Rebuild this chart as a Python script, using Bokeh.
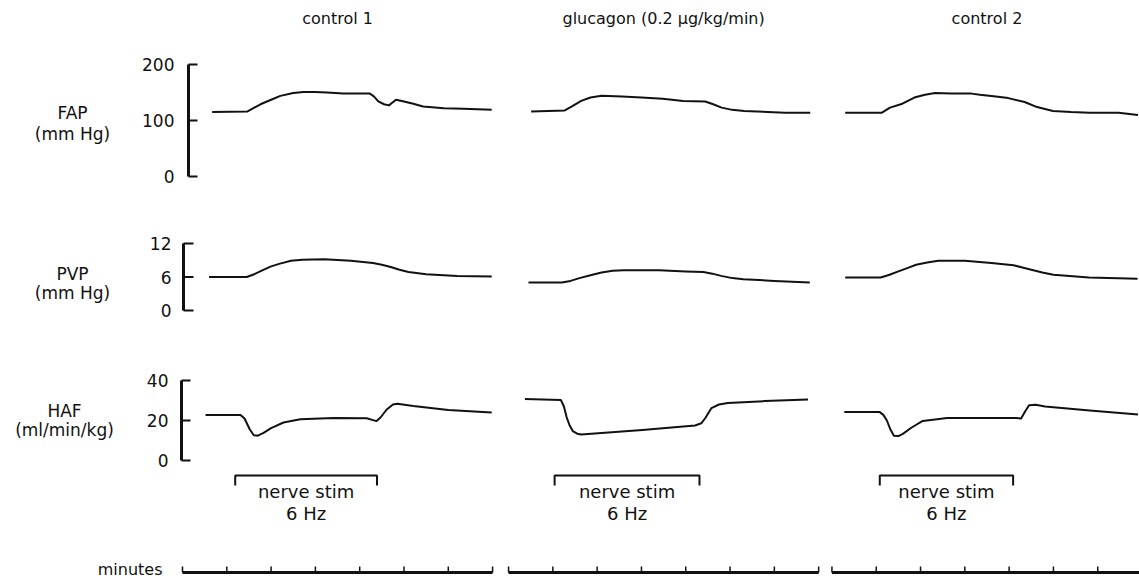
from bokeh.plotting import figure
from bokeh.models import Range1d
from bokeh.embed import file_html
from bokeh.resources import INLINE
from bokeh.core.properties import value

# ---------------- data ----------------
panel_titles = ["control 1", "glucagon (0.2 \u03bcg/kg/min)", "control 2"]
panel_minutes = 7                      # length of each time bar (minutes)
minute_ticks = [0, 1, 2, 3, 4, 5, 6, 7]

# FAP (mm Hg)
fap_t1 = [0.67, 1.46, 1.60, 1.76, 2.00, 2.21, 2.50, 2.73, 3.00, 3.26, 3.63, 4.23, 4.32, 4.42, 4.55, 4.66, 4.74, 4.82, 5.00, 5.21, 5.43, 5.90, 6.34, 6.98]
fap_v1 = [115, 116, 122, 129, 137, 144, 149, 151, 151, 150, 148, 148, 143, 134, 129, 127, 132, 137, 134, 130, 125, 122, 121, 119]
fap_t2 = [0.51, 1.27, 1.45, 1.64, 1.85, 2.10, 2.56, 3.00, 3.48, 3.94, 4.44, 4.62, 4.81, 5.05, 5.32, 6.24, 6.81]
fap_v2 = [116, 118, 126, 135, 141, 144, 143, 141, 139, 135, 134, 129, 123, 119, 117, 114, 114]
fap_t3 = [0.30, 1.13, 1.31, 1.59, 1.86, 2.10, 2.33, 2.70, 3.15, 3.34, 3.70, 3.98, 4.35, 4.63, 4.99, 5.40, 5.82, 6.47, 6.91]
fap_v3 = [114, 114, 123, 130, 141, 146, 149, 148, 148, 146, 143, 140, 133, 124, 117, 115, 114, 114, 110]

# PVP (mm Hg)
pvp_t1 = [0.60, 1.45, 1.62, 1.80, 2.00, 2.20, 2.45, 2.70, 3.20, 3.80, 4.30, 4.50, 4.70, 4.90, 5.10, 5.50, 6.20, 6.98]
pvp_v1 = [6.0, 6.0, 6.5, 7.2, 7.9, 8.4, 8.9, 9.1, 9.2, 8.9, 8.5, 8.2, 7.8, 7.3, 6.9, 6.5, 6.2, 6.1]
pvp_t2 = [0.45, 1.20, 1.40, 1.60, 1.85, 2.10, 2.35, 2.60, 3.40, 4.00, 4.40, 4.60, 4.80, 5.05, 5.30, 6.00, 6.80]
pvp_v2 = [5.0, 5.0, 5.3, 5.8, 6.3, 6.8, 7.1, 7.2, 7.2, 7.0, 6.9, 6.6, 6.2, 5.8, 5.6, 5.3, 5.0]
pvp_t3 = [0.30, 1.10, 1.30, 1.50, 1.70, 1.90, 2.15, 2.40, 3.00, 3.60, 4.10, 4.30, 4.50, 4.75, 5.00, 5.80, 6.90]
pvp_v3 = [5.9, 5.9, 6.4, 7.0, 7.6, 8.2, 8.6, 8.9, 8.9, 8.5, 8.1, 7.7, 7.3, 6.8, 6.4, 5.9, 5.7]

# HAF (ml/min/kg)
haf_t1 = [0.52, 1.31, 1.40, 1.52, 1.61, 1.70, 1.83, 2.00, 2.28, 2.66, 3.41, 4.16, 4.30, 4.38, 4.47, 4.61, 4.75, 4.85, 5.21, 6.00, 6.98]
haf_v1 = [22.8, 22.8, 21.0, 15.5, 12.6, 12.4, 13.8, 16.2, 19.0, 20.6, 21.3, 21.1, 20.2, 19.7, 21.5, 25.5, 28.0, 28.4, 27.2, 25.3, 24.0]
haf_t2 = [0.37, 1.18, 1.25, 1.31, 1.38, 1.45, 1.55, 1.64, 2.10, 3.02, 4.21, 4.35, 4.45, 4.58, 4.75, 4.95, 5.78, 6.76]
haf_v2 = [30.8, 30.3, 27.0, 21.7, 17.5, 14.7, 13.4, 13.0, 13.7, 15.3, 17.5, 18.6, 21.5, 26.2, 28.0, 28.7, 29.7, 30.5]
haf_t3 = [0.28, 1.08, 1.16, 1.24, 1.32, 1.40, 1.50, 1.60, 1.80, 2.05, 2.60, 4.16, 4.27, 4.36, 4.45, 4.60, 4.81, 5.82, 6.91]
haf_v3 = [24.2, 24.2, 22.8, 20.0, 15.5, 12.4, 12.2, 13.3, 16.5, 19.8, 21.3, 21.3, 21.0, 24.5, 27.6, 27.9, 27.0, 25.0, 23.0]

stim_on = [1.19, 1.04, 1.08]
stim_off = [4.39, 4.31, 4.09]
stim_label = "nerve stim"
stim_freq = "6 Hz"

fap_ticks, fap_labels = [0, 100, 200], ["0", "100", "200"]
pvp_ticks, pvp_labels = [0, 6, 12], ["0", "6", "12"]
haf_ticks, haf_labels = [0, 20, 40], ["0", "20", "40"]

# ---------------- layout ----------------
W, H = 1139, 582
M = 0                                  # canvas offset on the page
PX_PER_MIN = 44.3
T0_PX = 182                            # page x of minute 0, panel 1
panel_offset = [0.0, 7.36, 14.66]      # minutes from panel 1 start

x_range = Range1d((0 - (T0_PX - M)) / PX_PER_MIN, (W - (T0_PX - M)) / PX_PER_MIN)


def band(v_lo, v_hi, sy_lo, sy_hi):
    """Range mapping value v_lo to page y sy_lo and v_hi to page y sy_hi."""
    c_lo, c_hi = sy_lo - M, sy_hi - M
    k = (v_hi - v_lo) / (c_lo - c_hi)
    return Range1d(v_lo - (H - c_lo) * k, v_hi + c_hi * k)


p = figure(width=W, height=H, x_range=x_range, y_range=Range1d(H, 0),
           output_backend="svg", toolbar_location=None,
           x_axis_location=None, y_axis_location=None, min_border=0)
p.grid.visible = False
p.outline_line_color = None
p.background_fill_color = "white"
p.border_fill_color = "white"
p.extra_x_ranges = {"px": Range1d(0, W)}
p.extra_y_ranges = {"fap": band(0, 200, 176, 64),
                    "pvp": band(0, 12, 310, 243),
                    "haf": band(0, 40, 460, 380)}

INK = "#111111"
FONT = value("DejaVu Sans")

rows = [
    ("fap", [(fap_t1, fap_v1), (fap_t2, fap_v2), (fap_t3, fap_v3)], fap_ticks, fap_labels,
     188, 9, 174, ["FAP", "(mm Hg)"], [112, 133], 72),
    ("pvp", [(pvp_t1, pvp_v1), (pvp_t2, pvp_v2), (pvp_t3, pvp_v3)], pvp_ticks, pvp_labels,
     183, 10, 171, ["PVP", "(mm Hg)"], [273, 292], 72),
    ("haf", [(haf_t1, haf_v1), (haf_t2, haf_v2), (haf_t3, haf_v3)], haf_ticks, haf_labels,
     181, 9, 168, ["HAF", "(ml/min/kg)"], [410, 429], 64),
]

for name, series, ticks, labels, ax_x, tick_len, lab_x, row_txt, row_y, row_x in rows:
    # traces
    for (ts, vs), off in zip(series, panel_offset):
        p.line(x=[t + off for t in ts], y=vs, y_range_name=name,
               line_color=INK, line_width=2.0, line_join="round")
    # scale bracket
    p.segment(x0=[ax_x - M], y0=[min(ticks)], x1=[ax_x - M], y1=[max(ticks)],
              x_range_name="px", y_range_name=name, line_color=INK, line_width=3)
    p.segment(x0=[ax_x - M] * len(ticks), y0=ticks,
              x1=[ax_x - M + tick_len] * len(ticks), y1=ticks,
              x_range_name="px", y_range_name=name, line_color=INK, line_width=2)
    p.text(x=[lab_x - M] * len(ticks), y=ticks, text=labels,
           x_range_name="px", y_range_name=name, text_align="right",
           text_baseline="middle", text_font=FONT, text_font_size="17px",
           text_color=INK)
    # row label
    p.text(x=[row_x - M] * 2, y=[yy - M for yy in row_y], text=row_txt,
           x_range_name="px", text_align="center", text_baseline="middle",
           text_font=FONT, text_font_size="17px", text_color=INK)

# panel titles
p.text(x=[off + panel_minutes / 2 for off in panel_offset], y=[18 - M] * 3,
       text=panel_titles, text_align="center", text_baseline="middle",
       text_font=FONT, text_font_size="16px", text_color=INK)

# nerve stimulation brackets
br_top, br_bot = 475 - M, 485 - M
p.multi_line(xs=[[a + o, a + o, b + o, b + o] for a, b, o in zip(stim_on, stim_off, panel_offset)],
             ys=[[br_bot, br_top, br_top, br_bot]] * 3, line_color=INK, line_width=2)
mid = [(a + b) / 2 + o for a, b, o in zip(stim_on, stim_off, panel_offset)]
p.text(x=mid, y=[491 - M] * 3, text=[stim_label] * 3, text_align="center",
       text_baseline="middle", text_font=FONT, text_font_size="18px", text_color=INK)
p.text(x=mid, y=[513 - M] * 3, text=[stim_freq] * 3, text_align="center",
       text_baseline="middle", text_font=FONT, text_font_size="18px", text_color=INK)

# minutes time bars
bar_y = 572 - M
p.segment(x0=panel_offset, y0=[bar_y] * 3,
          x1=[o + panel_minutes for o in panel_offset], y1=[bar_y] * 3,
          line_color=INK, line_width=3)
tx = [o + m for o in panel_offset for m in minute_ticks]
p.segment(x0=tx, y0=[bar_y] * len(tx), x1=tx, y1=[bar_y - 6] * len(tx),
          line_color=INK, line_width=1.5)
p.text(x=[162 - M], y=[569 - M], text=["minutes"], x_range_name="px",
       text_align="right", text_baseline="middle", text_font=FONT,
       text_font_size="16px", text_color=INK)

open("out.html", "w").write(file_html(p, INLINE))
